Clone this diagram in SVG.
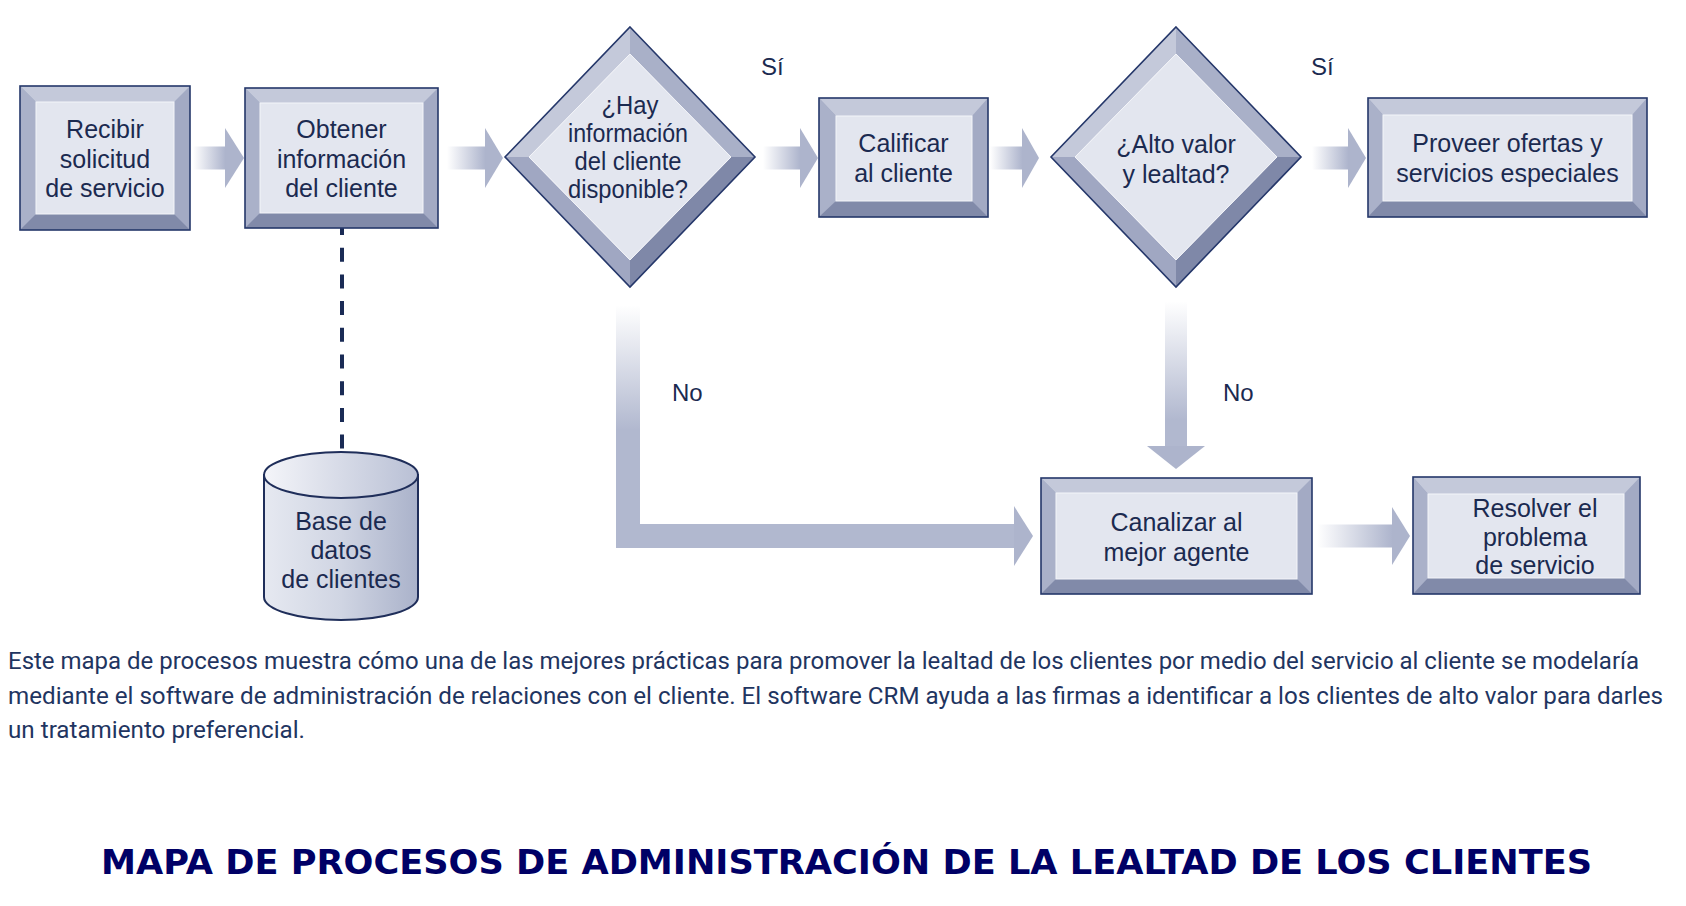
<svg xmlns="http://www.w3.org/2000/svg" width="1686" height="906" viewBox="0 0 1686 906">
<style>
.bg{fill:#ffffff}
.bevR{fill:#a3aac4}
.bevT{fill:#c4c9da}
.bevL{fill:#aab1c9}
.bevB{fill:#818aa9}
.face{fill:#e3e6ef;stroke:#f4f5f9;stroke-width:1}
.edge{fill:none;stroke:#25376a;stroke-width:1.6}
.dTL{fill:#c4c9da}
.dTR{fill:#a9b0c8}
.dBL{fill:#a0a7c2}
.dBR{fill:#7f88a8}
.t{font-family:"Liberation Sans",Arial,sans-serif;font-size:25px;fill:#1b2a50;text-anchor:middle}
.lbl{font-family:"Liberation Sans",Arial,sans-serif;font-size:24px;fill:#1b2a50}
.head{fill:#adb4cc}
.solid{fill:#b1b8cf}
.cap{font-family:Roboto,"Open Sans",sans-serif;font-size:23px;fill:#1f3561}
.title{font-family:"DejaVu Sans",Verdana,sans-serif;font-weight:bold;font-size:34px;fill:#000066}
.dash{stroke:#1a2b55;stroke-width:4;stroke-dasharray:14 12.7;fill:none}
.cyl{stroke:#1f2e5a;stroke-width:2}
</style>
<defs>
<linearGradient id="hg" x1="0" y1="0" x2="1" y2="0">
<stop offset="0" stop-color="#ffffff"/>
<stop offset="1" stop-color="#aeb5cd"/>
</linearGradient>
<linearGradient id="vg1" gradientUnits="userSpaceOnUse" x1="0" y1="305" x2="0" y2="430">
<stop offset="0" stop-color="#ffffff"/>
<stop offset="1" stop-color="#b1b8cf"/>
</linearGradient>
<linearGradient id="vg2" gradientUnits="userSpaceOnUse" x1="0" y1="301" x2="0" y2="420">
<stop offset="0" stop-color="#ffffff"/>
<stop offset="1" stop-color="#b1b8cf"/>
</linearGradient>
<linearGradient id="cylBody" x1="0" y1="0" x2="1" y2="0">
<stop offset="0" stop-color="#e6e9f1"/>
<stop offset="0.5" stop-color="#d0d5e3"/>
<stop offset="1" stop-color="#aab2ca"/>
</linearGradient>
<linearGradient id="cylTop" x1="0" y1="0" x2="1" y2="0">
<stop offset="0" stop-color="#f4f5f9"/>
<stop offset="1" stop-color="#b9c0d5"/>
</linearGradient>
</defs>
<rect class="bg" x="0" y="0" width="1686" height="906"/>

<g id="connectors">
  <rect x="193" y="146.5" width="32" height="23" fill="url(#hg)"/>
  <polygon class="head" points="225,128 244,158 225,188"/>
  <rect x="447" y="146.5" width="38" height="23" fill="url(#hg)"/>
  <polygon class="head" points="485,128 503,158 485,188"/>
  <rect x="763" y="146.5" width="37" height="23" fill="url(#hg)"/>
  <polygon class="head" points="800,128 818,158 800,188"/>
  <rect x="990" y="146.5" width="32" height="23" fill="url(#hg)"/>
  <polygon class="head" points="1022,128 1039,158 1022,188"/>
  <rect x="1312" y="146.5" width="36" height="23" fill="url(#hg)"/>
  <polygon class="head" points="1348,128 1366,158 1348,188"/>
  <rect x="616" y="305" width="24" height="243" fill="url(#vg1)"/>
  <rect class="solid" x="616" y="524" width="398" height="24"/>
  <polygon class="head" points="1014,506 1033,536 1014,566"/>
  <rect x="1165" y="301" width="22" height="145" fill="url(#vg2)"/>
  <polygon class="head" points="1147,446 1205,446 1176,469"/>
  <rect x="1317" y="524.5" width="75" height="23" fill="url(#hg)"/>
  <polygon class="head" points="1392,507 1410,536 1392,565"/>
  <line class="dash" x1="342" y1="221" x2="342" y2="449"/>
  <text class="lbl" x="761" y="75">Sí</text>
  <text class="lbl" x="1311" y="75">Sí</text>
  <text class="lbl" x="672" y="401">No</text>
  <text class="lbl" x="1223" y="401">No</text>
</g>

<g id="recibir">
  <rect class="bevR" x="20" y="86" width="170" height="144"/>
  <polygon class="bevT" points="20,86 190,86 174,102 36,102"/>
  <polygon class="bevL" points="20,86 36,102 36,214 20,230"/>
  <polygon class="bevB" points="20,230 190,230 174,214 36,214"/>
  <rect class="face" x="36" y="102" width="138" height="112"/>
  <rect class="edge" x="20" y="86" width="170" height="144"/>
  <text class="t" x="105" y="138">Recibir</text>
  <text class="t" x="105" y="167.5">solicitud</text>
  <text class="t" x="105" y="197">de servicio</text>
</g>

<g id="obtener">
  <rect class="bevR" x="245" y="88" width="193" height="140"/>
  <polygon class="bevT" points="245,88 438,88 423,103 260,103"/>
  <polygon class="bevL" points="245,88 260,103 260,213 245,228"/>
  <polygon class="bevB" points="245,228 438,228 423,213 260,213"/>
  <rect class="face" x="260" y="103" width="163" height="110"/>
  <rect class="edge" x="245" y="88" width="193" height="140"/>
  <text class="t" x="341.5" y="138">Obtener</text>
  <text class="t" x="341.5" y="167.5">información</text>
  <text class="t" x="341.5" y="197">del cliente</text>
</g>

<g id="hay-info">
  <polygon class="dTL" points="505,157 630,27 630,54 529,157"/>
  <polygon class="dTR" points="630,27 755,157 731,157 630,54"/>
  <polygon class="dBR" points="755,157 630,287 630,260 731,157"/>
  <polygon class="dBL" points="630,287 505,157 529,157 630,260"/>
  <polygon class="face" points="630,54 731,157 630,260 529,157"/>
  <polygon class="edge" points="630,27 755,157 630,287 505,157"/>
  <text class="t" x="630" y="114" textLength="57" lengthAdjust="spacingAndGlyphs">¿Hay</text>
  <text class="t" x="628" y="142" textLength="120" lengthAdjust="spacingAndGlyphs">información</text>
  <text class="t" x="628" y="170" textLength="107" lengthAdjust="spacingAndGlyphs">del cliente</text>
  <text class="t" x="628" y="198" textLength="120" lengthAdjust="spacingAndGlyphs">disponible?</text>
</g>

<g id="calificar">
  <rect class="bevR" x="819" y="98" width="169" height="119"/>
  <polygon class="bevT" points="819,98 988,98 972,116 836,116"/>
  <polygon class="bevL" points="819,98 836,116 836,201 819,217"/>
  <polygon class="bevB" points="819,217 988,217 972,201 836,201"/>
  <rect class="face" x="836" y="116" width="136" height="85"/>
  <rect class="edge" x="819" y="98" width="169" height="119"/>
  <text class="t" x="903.5" y="152">Calificar</text>
  <text class="t" x="903.5" y="182">al cliente</text>
</g>

<g id="alto-valor">
  <polygon class="dTL" points="1051,157 1176,27 1176,54 1075,157"/>
  <polygon class="dTR" points="1176,27 1301,157 1277,157 1176,54"/>
  <polygon class="dBR" points="1301,157 1176,287 1176,260 1277,157"/>
  <polygon class="dBL" points="1176,287 1051,157 1075,157 1176,260"/>
  <polygon class="face" points="1176,54 1277,157 1176,260 1075,157"/>
  <polygon class="edge" points="1176,27 1301,157 1176,287 1051,157"/>
  <text class="t" x="1176" y="153">¿Alto valor</text>
  <text class="t" x="1176" y="183">y lealtad?</text>
</g>

<g id="proveer">
  <rect class="bevR" x="1368" y="98" width="279" height="119"/>
  <polygon class="bevT" points="1368,98 1647,98 1632,115 1383,115"/>
  <polygon class="bevL" points="1368,98 1383,115 1383,201 1368,217"/>
  <polygon class="bevB" points="1368,217 1647,217 1632,201 1383,201"/>
  <rect class="face" x="1383" y="115" width="249" height="86"/>
  <rect class="edge" x="1368" y="98" width="279" height="119"/>
  <text class="t" x="1507.5" y="152">Proveer ofertas y</text>
  <text class="t" x="1507.5" y="182">servicios especiales</text>
</g>

<g id="base-datos">
  <path class="cyl" fill="url(#cylBody)" d="M264,475 L264,597 A77,23 0 0 0 418,597 L418,475 Z"/>
  <ellipse class="cyl" fill="url(#cylTop)" cx="341" cy="475" rx="77" ry="23"/>
  <text class="t" x="341" y="530">Base de</text>
  <text class="t" x="341" y="559">datos</text>
  <text class="t" x="341" y="588">de clientes</text>
</g>

<g id="canalizar">
  <rect class="bevR" x="1041" y="478" width="271" height="116"/>
  <polygon class="bevT" points="1041,478 1312,478 1297,493 1056,493"/>
  <polygon class="bevL" points="1041,478 1056,493 1056,579 1041,594"/>
  <polygon class="bevB" points="1041,594 1312,594 1297,579 1056,579"/>
  <rect class="face" x="1056" y="493" width="241" height="86"/>
  <rect class="edge" x="1041" y="478" width="271" height="116"/>
  <text class="t" x="1176.5" y="531">Canalizar al</text>
  <text class="t" x="1176.5" y="561">mejor agente</text>
</g>

<g id="resolver">
  <rect class="bevR" x="1413" y="477" width="227" height="117"/>
  <polygon class="bevT" points="1413,477 1640,477 1624,494 1428,494"/>
  <polygon class="bevL" points="1413,477 1428,494 1428,578 1413,594"/>
  <polygon class="bevB" points="1413,594 1640,594 1624,578 1428,578"/>
  <rect class="face" x="1428" y="494" width="196" height="84"/>
  <rect class="edge" x="1413" y="477" width="227" height="117"/>
  <text class="t" x="1535" y="517">Resolver el</text>
  <text class="t" x="1535" y="545.5">problema</text>
  <text class="t" x="1535" y="574">de servicio</text>
</g>

<g id="caption">
  <text class="cap" x="8" y="669" textLength="1631" lengthAdjust="spacingAndGlyphs">Este mapa de procesos muestra cómo una de las mejores prácticas para promover la lealtad de los clientes por medio del servicio al cliente se modelaría</text>
  <text class="cap" x="8" y="704" textLength="1655" lengthAdjust="spacingAndGlyphs">mediante el software de administración de relaciones con el cliente. El software CRM ayuda a las firmas a identificar a los clientes de alto valor para darles</text>
  <text class="cap" x="8" y="738" textLength="297" lengthAdjust="spacingAndGlyphs">un tratamiento preferencial.</text>
</g>

<g id="title">
  <text class="title" x="101" y="874" textLength="1491" lengthAdjust="spacingAndGlyphs">MAPA DE PROCESOS DE ADMINISTRACIÓN DE LA LEALTAD DE LOS CLIENTES</text>
</g>
</svg>
